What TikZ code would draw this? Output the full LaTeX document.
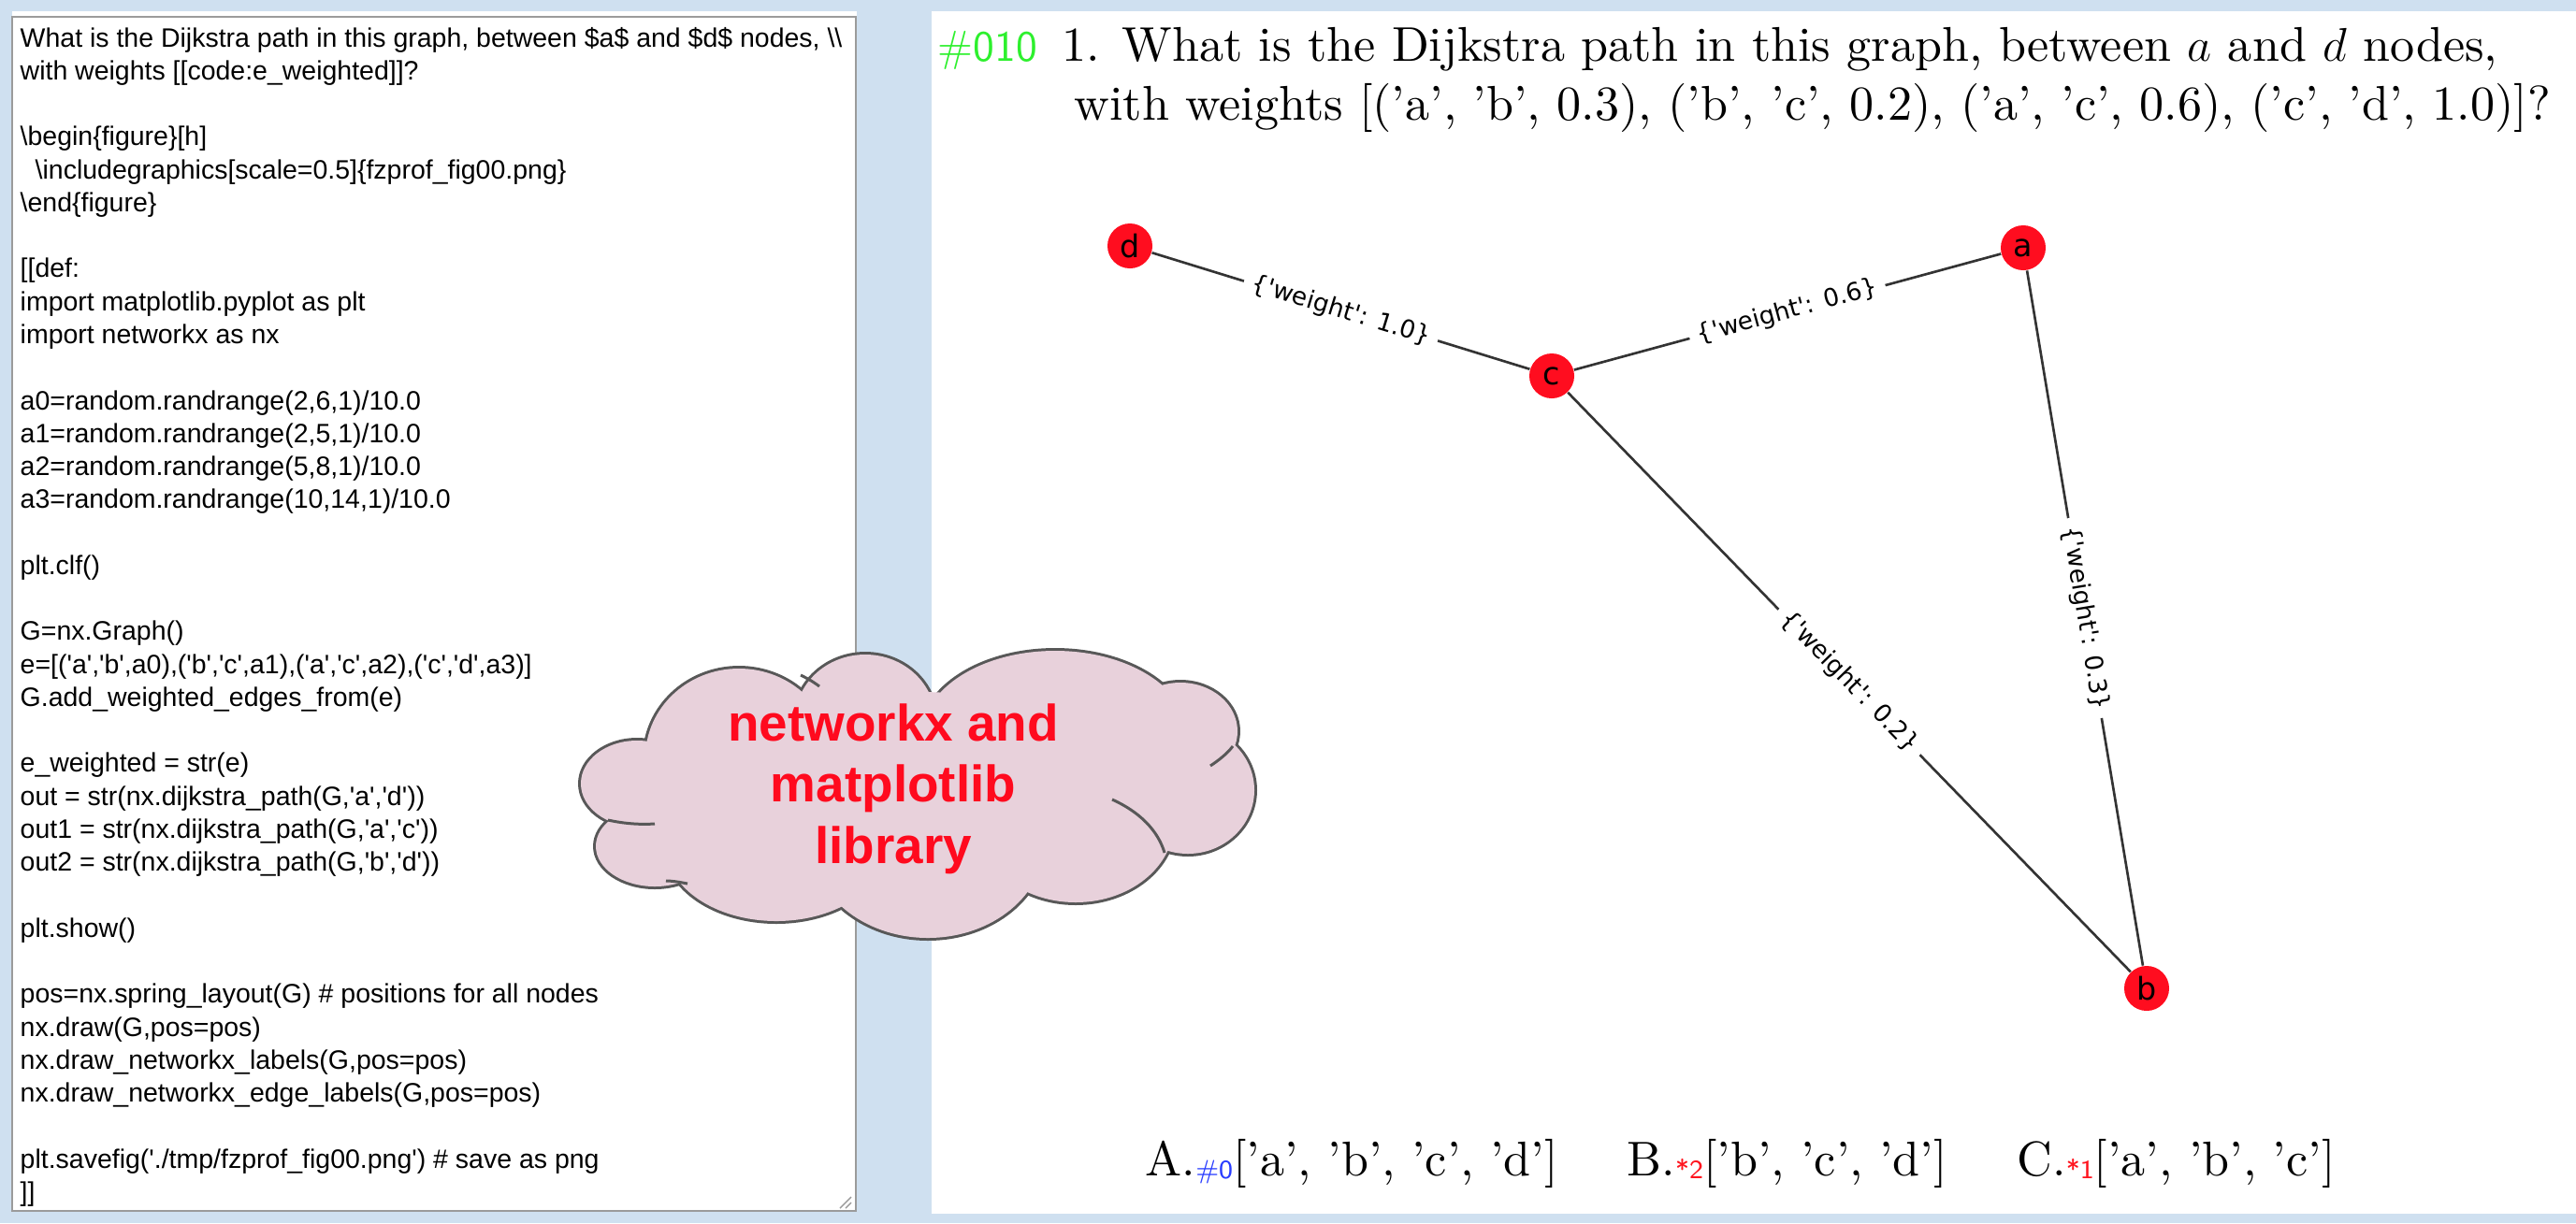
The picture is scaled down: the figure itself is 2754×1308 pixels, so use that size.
\documentclass[tikz,border=0pt]{standalone}
\usepackage{fontspec}
\newfontfamily\lsans{Liberation Sans}[Ligatures=TeXOff]
\newfontfamily\dvs{DejaVu Sans}[Ligatures=TeXOff]
\newfontfamily\qfont{lmroman10-regular.otf}[Ligatures=TeX]
\definecolor{bgblue}{RGB}{207,224,240}
\definecolor{panelgray}{RGB}{155,155,155}
\definecolor{nodered}{RGB}{255,13,31}
\definecolor{cloudfill}{RGB}{232,209,219}
\definecolor{cloudline}{RGB}{88,88,88}
\definecolor{cloudred}{RGB}{255,10,30}
\definecolor{numgreen}{RGB}{45,240,45}
\definecolor{ansblue}{RGB}{40,60,255}
\definecolor{ansred}{RGB}{255,20,30}
\newcommand{\ansub}[2]{\raisebox{-0.15ex}{\textcolor{#1}{\sffamily\fontsize{8}{8}\selectfont #2}}}
\begin{document}
\begin{tikzpicture}[x=0.01cm,y=-0.01cm,
  gnode/.style={circle, fill=nodered, minimum size=0.48cm, inner sep=0pt,
    font=\dvs\fontsize{9.5}{10}\selectfont},
  gedge/.style={draw=black!80, line width=0.75pt},
  elabel/.style={sloped, fill=white, inner sep=2.5pt,
    font=\dvs\fontsize{7.5}{8}\selectfont, text=black},
  qtext/.style={anchor=base west, inner sep=0pt, font=\qfont\fontsize{14.83}{17}\selectfont},
  cloudtext/.style={anchor=base, inner sep=0pt, text=cloudred,
    font=\lsans\bfseries\fontsize{15.6}{18}\selectfont},
  codetext/.style={anchor=base west, inner sep=0pt,
    font=\lsans\fontsize{8.1}{10.03}\selectfont},
  cloudedge/.style={draw=cloudline, line width=1.7pt},
  cloudarc/.style={draw=cloudline, line width=0.85pt}
]
% background and panels
\fill[bgblue] (0,0) rectangle (2754,1308);
\useasboundingbox (0,0) rectangle (2754,1308);
\fill[white] (13,12) rectangle (916,18);
\draw[panelgray, line width=0.6pt, fill=white] (13,18) rectangle (915,1295);
\draw[panelgray, line width=0.4pt] (898,1292) -- (910,1280) (904,1292) -- (910,1286);
\fill[white] (996,12) rectangle (2754,1298);

% code text
\node[codetext] (code) at (21,50) {\parbox[t]{9.5cm}{\raggedright
What is the Dijkstra path in this graph, between \$a\$ and \$d\$ nodes, \textbackslash\textbackslash\\{}
with weights [[code:e\_weighted]]?\\{}
\mbox{}\\{}
\textbackslash begin\{figure\}[h]\\{}
\hspace*{0.16cm}\textbackslash includegraphics[scale=0.5]\{fzprof\_fig00.png\}\\{}
\textbackslash end\{figure\}\\{}
\mbox{}\\{}
[[def:\\{}
import matplotlib.pyplot as plt\\{}
import networkx as nx\\{}
\mbox{}\\{}
a0=random.randrange(2,6,1)/10.0\\{}
a1=random.randrange(2,5,1)/10.0\\{}
a2=random.randrange(5,8,1)/10.0\\{}
a3=random.randrange(10,14,1)/10.0\\{}
\mbox{}\\{}
plt.clf()\\{}
\mbox{}\\{}
G=nx.Graph()\\{}
e=[('a','b',a0),('b','c',a1),('a','c',a2),('c','d',a3)]\\{}
G.add\_weighted\_edges\_from(e)\\{}
\mbox{}\\{}
e\_weighted = str(e)\\{}
out = str(nx.dijkstra\_path(G,'a','d'))\\{}
out1 = str(nx.dijkstra\_path(G,'a','c'))\\{}
out2 = str(nx.dijkstra\_path(G,'b','d'))\\{}
\mbox{}\\{}
plt.show()\\{}
\mbox{}\\{}
pos=nx.spring\_layout(G) \# positions for all nodes\\{}
nx.draw(G,pos=pos)\\{}
nx.draw\_networkx\_labels(G,pos=pos)\\{}
nx.draw\_networkx\_edge\_labels(G,pos=pos)\\{}
\mbox{}\\{}
plt.savefig('./tmp/fzprof\_fig00.png') \# save as png\\{}
]]}};

% question
\node[anchor=base west, inner sep=0pt, text=numgreen, font=\sffamily\fontsize{13.2}{15}\selectfont] (num) at (1002,65) {\#010};
\node[qtext] (q1) at (1135,65) {1. What is the Dijkstra path in this graph, between $a$ and $d$ nodes,};
\node[qtext] (q2) at (1148,128) {with weights [('a', 'b', 0.3), ('b', 'c', 0.2), ('a', 'c', 0.6), ('c', 'd', 1.0)]?};

% graph
\node[gnode] (d) at (1208,263) {d};
\node[gnode] (c) at (1659,402) {c};
\node[gnode] (a) at (2163,265) {a};
\node[gnode] (b) at (2295,1057) {b};
\draw[gedge] (d) -- node[elabel] (ldc) {\{'weight': 1.0\}} (c);
\draw[gedge] (c) -- node[elabel] (lca) {\{'weight': 0.6\}} (a);
\draw[gedge] (c) -- node[elabel] (lcb) {\{'weight': 0.2\}} (b);
\draw[gedge] (a) -- node[elabel] (lab) {\{'weight': 0.3\}} (b);

% answers
\node[qtext] (ansA) at (1224,1257) {A.\ansub{ansblue}{\#0}['a', 'b', 'c', 'd']};
\node[qtext] (ansB) at (1739,1257) {B.\ansub{ansred}{*2}['b', 'c', 'd']};
\node[qtext] (ansC) at (2156,1257) {C.\ansub{ansred}{*1}['a', 'b', 'c']};

% cloud: union of lobes (outline = outer half of doubled strokes)
\foreach \cx/\cy/\rx/\ry in {681/838/60/46, 700/905/63/43, 830/905/118/80,
    992/900/125/103, 1150/880/105/85, 1270/845/71/68, 1262/782/61/52,
    1128/786/142/90, 925/770/75/70, 790/810/100/95}
  \draw[cloudedge] (\cx,\cy) ellipse [x radius=\rx, y radius=\ry];
\foreach \cx/\cy/\rx/\ry in {681/838/60/46, 700/905/63/43, 830/905/118/80,
    992/900/125/103, 1150/880/105/85, 1270/845/71/68, 1262/782/61/52,
    1128/786/142/90, 925/770/75/70, 790/810/100/95, 980/850/260/110}
  \fill[cloudfill] (\cx,\cy) ellipse [x radius=\rx, y radius=\ry];
% small inner arcs of the cloud outline
\draw[cloudarc] (650,877) .. controls (668,881) and (685,882) .. (700,881);
\draw[cloudarc] (1189,855) .. controls (1218,868) and (1238,888) .. (1245,912);
\draw[cloudarc] (876,734) .. controls (868,728) and (862,725) .. (856,722);
\draw[cloudarc] (735,945) .. controls (725,943) and (718,942) .. (712,942);
\draw[cloudarc] (1294,819) .. controls (1303,813) and (1312,806) .. (1318,798);
% cloud text
\node[cloudtext] (clt1) at (955,792) {networkx and};
\node[cloudtext] (clt2) at (955,857) {matplotlib};
\node[cloudtext] (clt3) at (955,923) {library};
\end{tikzpicture}
\end{document}
